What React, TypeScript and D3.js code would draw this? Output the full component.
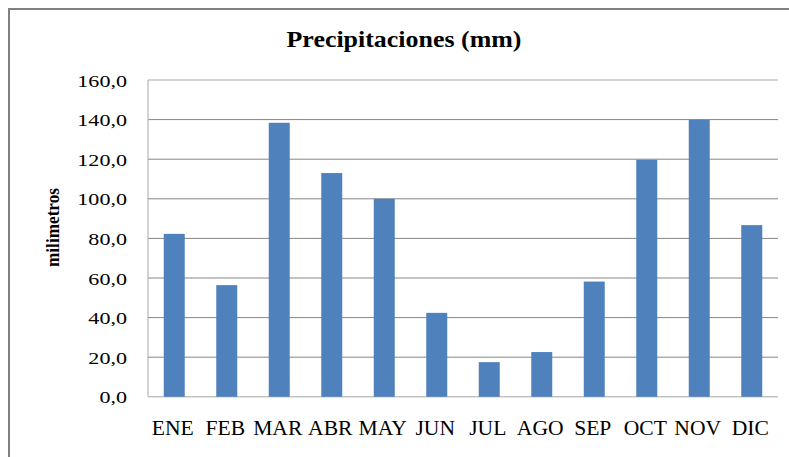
import React from "react";
import * as d3 from "d3";

const months = ["ENE", "FEB", "MAR", "ABR", "MAY", "JUN", "JUL", "AGO", "SEP", "OCT", "NOV", "DIC"];
const precip = [82.3, 56.4, 138.4, 113, 100, 42.4, 17.5, 22.6, 58.2, 119.7, 139.9, 86.7];
const yTicks = [0, 20, 40, 60, 80, 100, 120, 140, 160];
const title = "Precipitaciones (mm)";
const yLabel = "milimetros";

const W = 789;
const H = 457;
const plot = { left: 148, right: 778, top: 80, bottom: 396.8 };
const font = "'Liberation Serif', 'Times New Roman', serif";

export default function App() {
  const band = d3.scaleBand<string>().domain(months).range([plot.left, plot.right]);
  const y = d3.scaleLinear().domain([0, 160]).range([plot.bottom, plot.top]);
  const fmt = (v: number) => v.toFixed(1).replace(".", ",");

  return (
    <svg width={W} height={H} style={{ position: "absolute", left: 0, top: 0, background: "#fff" }}>
      <rect x={9} y={9} width={W + 20} height={H + 20} fill="#fff" stroke="#808080" strokeWidth={2} />
      {yTicks.map((t) => (
        <line key={"g" + t} x1={plot.left} x2={plot.right} y1={y(t)} y2={y(t)} stroke={t === 160 || t === 0 ? "#a6a6a6" : "#868686"} strokeWidth={1} />
      ))}
      <line x1={plot.left} x2={plot.left} y1={plot.top} y2={plot.bottom} stroke="#a6a6a6" strokeWidth={1} />
      {months.map((m, i) => {
        const bw = band.bandwidth() * 0.4;
        const cx = (band(m) as number) + band.bandwidth() / 2;
        return (
          <rect key={m} x={cx - bw / 2} y={y(precip[i])} width={bw} height={y(0) - y(precip[i])} fill="#4F81BD" />
        );
      })}
      {yTicks.map((t) => (
        <g key={"t" + t} transform={`translate(127,${y(t) + 6.5}) scale(1.3,1)`}>
          <text x={0} y={0} textAnchor="end" fontFamily={font} fontSize={17} fill="#000">
            {fmt(t)}
          </text>
        </g>
      ))}
      {months.map((m) => {
        const cx = (band(m) as number) + band.bandwidth() / 2;
        return (
          <g key={"x" + m} transform={`translate(${cx - 1.5},435) scale(1.08,1)`}>
            <text x={0} y={0} textAnchor="middle" fontFamily={font} fontSize={20} fill="#000">
              {m}
            </text>
          </g>
        );
      })}
      <text x={404} y={47} textAnchor="middle" fontFamily={font} fontSize={24} fontWeight="bold" fill="#000" textLength={235} lengthAdjust="spacingAndGlyphs">
        {title}
      </text>
      <text transform="translate(59,227.5) rotate(-90)" textAnchor="middle" fontFamily={font} fontSize={19} fontWeight="bold" fill="#000" textLength={79} lengthAdjust="spacingAndGlyphs">
        {yLabel}
      </text>
    </svg>
  );
}
